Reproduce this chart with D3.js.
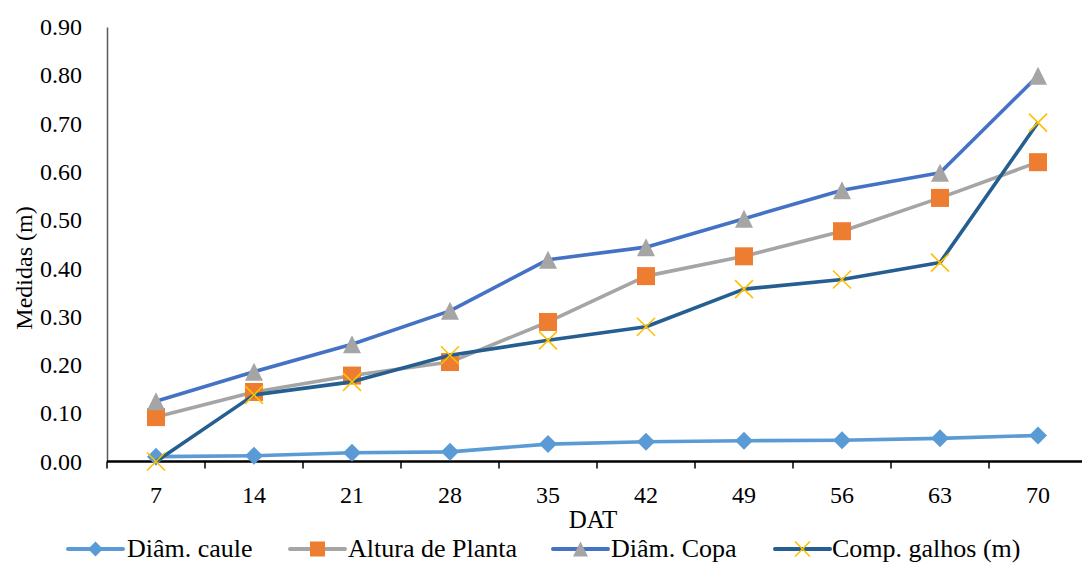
<!DOCTYPE html>
<html>
<head>
<meta charset="utf-8">
<script src="https://cdn.jsdelivr.net/npm/d3@7"></script>
<style>
  html, body { margin: 0; padding: 0; background: #fff; }
  svg { display: block; }
</style>
</head>
<body>
<svg id="chart" width="1082" height="563"></svg>
<script>
// Days after transplanting (DAT)
const categories = [7, 14, 21, 28, 35, 42, 49, 56, 63, 70];

// Measurements in metres
const diamCaule   = [0.010, 0.012, 0.018, 0.020, 0.036, 0.041, 0.043, 0.044, 0.048, 0.054];
const alturaPlanta = [0.092, 0.144, 0.178, 0.206, 0.289, 0.384, 0.425, 0.477, 0.546, 0.620];
const diamCopa    = [0.125, 0.186, 0.243, 0.312, 0.418, 0.444, 0.503, 0.562, 0.598, 0.799];
const compGalhos  = [0.000, 0.138, 0.165, 0.220, 0.251, 0.279, 0.357, 0.377, 0.412, 0.702];

const yTicks = [0, 0.1, 0.2, 0.3, 0.4, 0.5, 0.6, 0.7, 0.8, 0.9];

const seriesNames = ["Diâm. caule", "Altura de Planta", "Diâm. Copa", "Comp. galhos (m)"];

const series = [
  { name: seriesNames[0], values: diamCaule,    line: "#5B9BD5", marker: "diamond",  fill: "#5B9BD5" },
  { name: seriesNames[1], values: alturaPlanta, line: "#A5A5A5", marker: "square",   fill: "#ED7D31" },
  { name: seriesNames[2], values: diamCopa,     line: "#4472C4", marker: "triangle", fill: "#A5A5A5" },
  { name: seriesNames[3], values: compGalhos,   line: "#255E91", marker: "cross",    fill: "#FFC000" }
];

const FONT = '"Liberation Serif"';

const svg = d3.select("#chart");
const plotLeft = 107, plotRight = 1087, plotTop = 27, plotBottom = 461.5;

const x = d3.scaleBand().domain(categories).range([plotLeft, plotRight]).padding(0);
const y = d3.scaleLinear().domain([0, 0.9]).range([plotBottom, plotTop]);
const cx = d => x(d) + x.bandwidth() / 2;

// Y axis (line + labels, no tick marks)
const yAxis = svg.append("g")
  .attr("transform", `translate(${plotLeft},0)`)
  .call(d3.axisLeft(y).tickValues(yTicks).tickFormat(d3.format(".2f")).tickSize(0).tickPadding(25));
yAxis.attr("font-family", null).attr("font-size", null);
yAxis.select(".domain").attr("stroke", "#595959").attr("stroke-width", 1.5);
yAxis.selectAll("text").style("font-family", FONT).style("font-size", "24px").attr("fill", "#000");

// X axis with ticks between categories
const xAxis = svg.append("g")
  .attr("transform", `translate(0,${plotBottom})`)
  .call(d3.axisBottom(x).tickSize(0).tickPadding(24));
xAxis.attr("font-family", null).attr("font-size", null);
xAxis.select(".domain").remove();
xAxis.selectAll("text").style("font-family", FONT).style("font-size", "24px").attr("fill", "#000");
xAxis.append("line").attr("x1", plotLeft).attr("x2", 1082).attr("y1", 0).attr("y2", 0)
  .attr("stroke", "#000").attr("stroke-width", 2.5);
xAxis.selectAll(".tickmark").data(categories).enter().append("line")
  .attr("class", "tickmark")
  .attr("x1", d => x(d)).attr("x2", d => x(d))
  .attr("y1", 0).attr("y2", 7)
  .attr("stroke", "#000").attr("stroke-width", 1.5);

// Axis titles
svg.append("text").attr("x", (plotLeft + plotRight) / 2 - 4).attr("y", 528)
  .attr("text-anchor", "middle").style("font-family", FONT).style("font-size", "25px").text("DAT");
svg.append("text")
  .attr("transform", "translate(32,268) rotate(-90)")
  .attr("text-anchor", "middle").style("font-family", FONT).style("font-size", "24px").text("Medidas (m)");

// Marker drawing
function drawMarker(g, type, fill, size) {
  const h = size / 2;
  if (type === "diamond") {
    g.append("path").attr("d", `M0,${-h}L${h},0L0,${h}L${-h},0Z`).attr("fill", fill);
  } else if (type === "square") {
    g.append("rect").attr("x", -h).attr("y", -h).attr("width", size).attr("height", size).attr("fill", fill);
  } else if (type === "triangle") {
    g.append("path").attr("d", `M0,${-h}L${h},${h}L${-h},${h}Z`).attr("fill", fill);
  } else if (type === "cross") {
    g.append("path").attr("d", `M${-h},${-h}L${h},${h}M${h},${-h}L${-h},${h}`)
      .attr("stroke", fill).attr("stroke-width", 1.6).attr("fill", "none");
  }
}

const line = d3.line().x((d, i) => cx(categories[i])).y(d => y(d));

series.forEach(s => {
  const g = svg.append("g");
  g.append("path").datum(s.values).attr("d", line)
    .attr("fill", "none").attr("stroke", s.line).attr("stroke-width", 3.6)
    .attr("stroke-linejoin", "round");
  s.values.forEach((v, i) => {
    const m = g.append("g").attr("transform", `translate(${cx(categories[i])},${y(v)})`);
    drawMarker(m, s.marker, s.fill, 18);
  });
});

// Legend
const legendItems = [
  { lx: 68,  tx: 127 },
  { lx: 290, tx: 348 },
  { lx: 553, tx: 611 },
  { lx: 775, tx: 832 }
];
const ly = 549;
series.forEach((s, i) => {
  const it = legendItems[i];
  const g = svg.append("g");
  g.append("line").attr("x1", it.lx).attr("x2", it.lx + 55).attr("y1", ly).attr("y2", ly)
    .attr("stroke", s.line).attr("stroke-width", 4).attr("stroke-linecap", "round");
  const m = g.append("g").attr("transform", `translate(${it.lx + 27.5},${ly})`);
  drawMarker(m, s.marker, s.fill, 15);
  g.append("text").attr("x", it.tx).attr("y", 557)
    .style("font-family", FONT).style("font-size", "26px").text(s.name);
});
</script>
</body>
</html>
